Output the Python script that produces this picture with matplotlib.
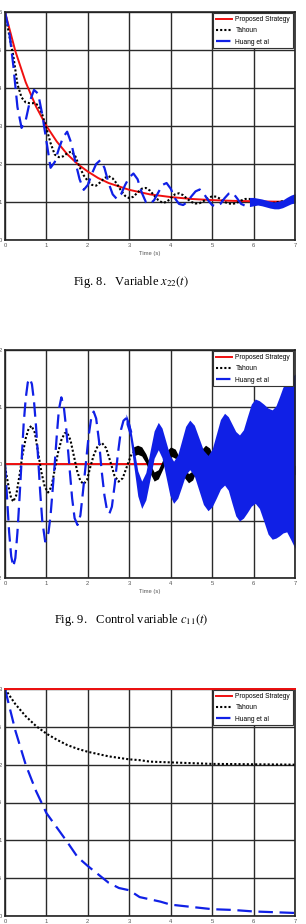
import numpy as np
import matplotlib
matplotlib.use('Agg')
import matplotlib.pyplot as plt

plt.rcParams['font.family'] = ['Liberation Sans', 'DejaVu Sans']
plt.rcParams['mathtext.fontset'] = 'stix'

# ── Series names and colours ──────────────────────────────────────────────────
LABELS = ['Proposed Strategy', 'Tahoun', 'Huang et al']
RED, BLACK, BLUE = '#f01010', '#000000', '#1020e6'
X_TICKS = [0, 1, 2, 3, 4, 5, 6, 7]

# ── Fig. 8 : x22(t) ──────────────────────────────────────────────────────────
x22_red_t = [0, 0.25, 0.5, 0.75, 1.0, 1.25, 1.5, 1.75, 2.0, 2.25, 2.5, 3.0, 3.5,
             4.0, 4.5, 5.0, 5.5, 6.0, 6.5, 7.0]
x22_red = [6.0, 4.97, 4.15, 3.51, 3.0, 2.59, 2.26, 2.0, 1.8, 1.63, 1.5, 1.32, 1.2,
           1.13, 1.08, 1.05, 1.03, 1.02, 1.01, 1.01]

x22_t = np.round(np.arange(0, 7.05, 0.1), 2)
x22_black = [6.0, 5.4, 4.85, 4.1, 3.75, 3.62, 3.6, 3.6, 3.55, 3.3,
             2.94, 2.55, 2.25, 2.18, 2.2, 2.28, 2.33, 2.2, 1.92, 1.7,
             1.55, 1.45, 1.43, 1.52, 1.63, 1.68, 1.62, 1.48, 1.3, 1.16,
             1.1, 1.14, 1.25, 1.35, 1.37, 1.3, 1.17, 1.05, 0.98, 1.0,
             1.1, 1.2, 1.23, 1.18, 1.08, 1.0, 0.96, 0.97, 1.03, 1.1,
             1.15, 1.14, 1.08, 1.0, 0.96, 0.95, 0.98, 1.04, 1.08, 1.08,
             1.03, 0.98, 0.95, 0.94, 0.95, 0.98, 1.0, 1.02, 1.02, 1.0,
             0.99]
x22_blue = [6.0, 5.5, 4.6, 3.5, 2.95, 3.15, 3.65, 3.95, 3.85, 3.3,
            2.6, 1.9, 2.05, 2.4, 2.7, 2.85, 2.55, 2.05, 1.6, 1.32,
            1.45, 1.75, 2.0, 2.1, 1.9, 1.5, 1.2, 1.08, 1.2, 1.45,
            1.65, 1.75, 1.6, 1.25, 1.0, 0.95, 1.05, 1.25, 1.45, 1.5,
            1.35, 1.1, 0.95, 0.92, 1.0, 1.15, 1.28, 1.33, 1.22, 1.05,
            0.92, 0.88, 0.95, 1.1, 1.22, 1.24, 1.1, 0.95, 0.9, 0.95,
            1.0]
# fast-oscillation band at the end (upper / lower envelope)
x22_band_t = [5.9, 6.0, 6.1, 6.2, 6.3, 6.4, 6.5, 6.6, 6.7, 6.8, 6.9, 7.0]
x22_band_hi = [1.12, 1.12, 1.1, 1.08, 1.05, 1.02, 1.0, 1.02, 1.05, 1.12, 1.18, 1.22]
x22_band_lo = [0.88, 0.9, 0.92, 0.9, 0.87, 0.84, 0.82, 0.82, 0.85, 0.9, 0.95, 0.98]

# ── Fig. 9 : c11(t) ──────────────────────────────────────────────────────────
c11_red_t = [0, 7]
c11_red = [0, 0]

c11_black_t = [0.0, 0.05, 0.1, 0.15, 0.2, 0.27, 0.35, 0.42, 0.5, 0.57, 0.64, 0.72,
               0.8, 0.88, 0.96, 1.04, 1.12, 1.2, 1.28, 1.36, 1.44, 1.5, 1.58, 1.66,
               1.74, 1.82, 1.9, 1.98, 2.06, 2.14, 2.24, 2.34, 2.44, 2.54, 2.64, 2.74,
               2.84, 2.94, 3.04, 3.14]
c11_black = [-0.05, -0.25, -0.45, -0.6, -0.66, -0.55, -0.2, 0.15, 0.45, 0.62, 0.67, 0.55,
             0.2, -0.15, -0.4, -0.5, -0.4, -0.1, 0.2, 0.42, 0.54, 0.55, 0.42, 0.15,
             -0.12, -0.3, -0.35, -0.28, -0.05, 0.15, 0.32, 0.37, 0.28, 0.05, -0.2, -0.31,
             -0.25, -0.05, 0.15, 0.24]
# from ~3 s the Tahoun trace turns into a thin fast-oscillating band
c11_black_band_t = [3.1, 3.2, 3.3, 3.4, 3.5, 3.6, 3.7, 3.8, 3.9, 4.0,
                    4.11, 4.22, 4.33, 4.43, 4.53, 4.63, 4.74, 4.84, 4.94, 5.04,
                    5.15, 5.25, 5.35, 5.45, 5.55, 5.65, 5.75, 5.85, 5.95, 6.05,
                    6.15, 6.25, 6.35, 6.45, 6.55, 6.65, 6.75, 6.85, 7.0]
c11_black_band_hi = [0.30, 0.33, 0.30, 0.18, 0.0, -0.14, -0.10, 0.06, 0.23, 0.30,
                     0.26, 0.10, -0.08, -0.17, -0.12, 0.06, 0.25, 0.33, 0.28, 0.10,
                     -0.09, -0.17, -0.12, 0.06, 0.25, 0.33, 0.28, 0.10, -0.09, -0.17,
                     -0.12, 0.06, 0.25, 0.33, 0.28, 0.10, -0.09, -0.17, -0.02]
c11_black_band_lo = [0.14, 0.17, 0.14, 0.02, -0.16, -0.30, -0.26, -0.10, 0.07, 0.14,
                     0.10, -0.06, -0.24, -0.33, -0.28, -0.10, 0.09, 0.17, 0.12, -0.06,
                     -0.25, -0.33, -0.28, -0.10, 0.09, 0.17, 0.12, -0.06, -0.25, -0.33,
                     -0.28, -0.10, 0.09, 0.17, 0.12, -0.06, -0.25, -0.33, -0.18]

c11_blue_t = [0.0, 0.05, 0.1, 0.15, 0.2, 0.25, 0.3, 0.35, 0.4, 0.45, 0.5, 0.55,
              0.6, 0.65, 0.7, 0.75, 0.8, 0.85, 0.9, 0.97, 1.05, 1.1, 1.15, 1.2,
              1.25, 1.3, 1.36, 1.42, 1.48, 1.55, 1.62, 1.68, 1.75, 1.82, 1.88, 1.95,
              2.02, 2.08, 2.14, 2.2, 2.27, 2.33, 2.4, 2.46, 2.52, 2.58, 2.65, 2.72,
              2.8, 2.86, 2.92, 2.98, 3.05]
c11_blue = [0.0, -0.6, -1.2, -1.62, -1.8, -1.65, -1.2, -0.6, 0.05, 0.7, 1.15, 1.43,
            1.5, 1.4, 1.1, 0.65, 0.1, -0.5, -1.0, -1.36, -1.2, -0.9, -0.45, 0.0,
            0.5, 0.95, 1.17, 1.0, 0.6, 0.0, -0.6, -0.95, -1.07, -0.9, -0.5, 0.0,
            0.5, 0.8, 0.92, 0.8, 0.4, -0.1, -0.55, -0.8, -0.87, -0.75, -0.35, 0.15,
            0.6, 0.76, 0.8, 0.72, 0.55]
# from ~3 s the Huang trace is a widening fast-oscillating band
c11_blue_band_t = [2.92, 3.015, 3.11, 3.205, 3.3, 3.4, 3.5, 3.6, 3.7, 3.79, 3.885,
                   3.98, 4.07, 4.17, 4.265, 4.36, 4.46, 4.57, 4.68, 4.79, 4.9, 5.0,
                   5.1, 5.2, 5.3, 5.39, 5.48, 5.57, 5.66, 5.755, 5.85, 5.945, 6.04,
                   6.14, 6.245, 6.35, 6.45, 6.54, 6.625, 6.71, 6.8, 6.9, 7.0]
c11_blue_band_hi = [0.88, 0.70, 0.29, -0.12, -0.3, -0.15, 0.22, 0.58, 0.73, 0.63, 0.39,
                    0.15, 0.05, 0.16, 0.41, 0.66, 0.77, 0.68, 0.46, 0.24, 0.15, 0.26,
                    0.52, 0.78, 0.89, 0.83, 0.7, 0.57, 0.51, 0.6, 0.83, 1.05, 1.14,
                    1.11, 1.05, 0.98, 0.95, 1.02, 1.18, 1.35, 1.42, 1.5, 1.58]
c11_blue_band_lo = [0.7, 0.48, -0.04, -0.56, -0.78, -0.63, -0.27, 0.1, 0.25, 0.11, -0.22,
                    -0.55, -0.69, -0.6, -0.4, -0.19, -0.1, -0.21, -0.46, -0.71, -0.82, -0.75,
                    -0.6, -0.44, -0.37, -0.46, -0.69, -0.91, -1.0, -0.95, -0.85, -0.74, -0.69,
                    -0.78, -1.0, -1.23, -1.32, -1.3, -1.26, -1.21, -1.19, -1.33, -1.48]

# ── third panel ──────────────────────────────────────────────────────────────
p3_t = [0, 0.25, 0.5, 0.75, 1.0, 1.25, 1.5, 1.75, 2.0, 2.25, 2.5, 2.75, 3.0, 3.25,
        3.5, 3.75, 4.0, 4.5, 5.0, 5.5, 6.0, 6.5, 7.0]
p3_red = [3.0] * len(p3_t)
p3_black = [3.0, 2.8, 2.64, 2.51, 2.41, 2.33, 2.26, 2.21, 2.17, 2.14, 2.11, 2.09, 2.07, 2.06,
            2.04, 2.035, 2.03, 2.02, 2.01, 2.008, 2.005, 2.003, 2.0]
p3_blue = [3.0, 2.45, 2.0, 1.65, 1.36, 1.17, 0.98, 0.78, 0.66, 0.55, 0.44, 0.37, 0.34, 0.25,
           0.22, 0.19, 0.15, 0.12, 0.09, 0.08, 0.06, 0.05, 0.04]


def style_axes(ax, ylim, yticks):
    ax.set_xlim(0, 7)
    ax.set_ylim(*ylim)
    ax.set_xticks(X_TICKS)
    ax.set_yticks(yticks)
    ax.set_yticklabels([f'{v:g}' for v in yticks])
    ax.grid(True, color='#2a2a2a', linewidth=1.0)
    ax.set_axisbelow(True)
    ax.tick_params(length=0, labelsize=4.2, colors='#555555', pad=2.5)
    for s in ax.spines.values():
        s.set_color('#222222')
        s.set_linewidth(1.2)
        s.set_zorder(5)
    ax.set_xlabel('Time (s)', fontsize=4.2, color='#555555', labelpad=1.5)


def add_legend(ax):
    leg = ax.legend(LABELS, loc='upper right', bbox_to_anchor=(0.995, 0.997), fontsize=4.8,
                    frameon=True, fancybox=False, framealpha=1, edgecolor='#333333',
                    borderaxespad=0.1, handlelength=2.4, handletextpad=0.5,
                    labelspacing=0.65, borderpad=0.4)
    leg.get_frame().set_linewidth(0.8)
    leg.set_zorder(10)


def draw_lines(ax, t_red, y_red, t_blk, y_blk, t_blu, y_blu):
    ax.plot(t_red, y_red, color=RED, lw=1.4, label=LABELS[0], zorder=3)
    ax.plot(t_blk, y_blk, color=BLACK, lw=1.5, linestyle=(0, (1, 1)), label=LABELS[1], zorder=3)
    ax.plot(t_blu, y_blu, color=BLUE, lw=1.6, dashes=(6.5, 3), label=LABELS[2], zorder=4)


fig = plt.figure(figsize=(3.06, 9.24), dpi=100)
W, H = 306, 924


def px_axes(left, top, right, bottom):
    return fig.add_axes([left / W, 1 - bottom / H, (right - left) / W, (bottom - top) / H])


# panel 1
ax1 = px_axes(5, 12, 295, 240)
draw_lines(ax1, x22_red_t, x22_red, x22_t, x22_black, x22_t[:len(x22_blue)], x22_blue)
ax1.fill_between(x22_band_t, x22_band_lo, x22_band_hi, color=BLUE, lw=0, zorder=4)
style_axes(ax1, (0, 6), [0, 1, 2, 3, 4, 5, 6])
add_legend(ax1)
fig.text(131 / W, 1 - 282 / H, r'Fig. 8.   Variable $x_{22}(t)$', ha='center', va='center',
         fontsize=9, family='Liberation Serif')

# panel 2
ax2 = px_axes(5, 350, 295, 578)
draw_lines(ax2, c11_red_t, c11_red, c11_black_t, c11_black, c11_blue_t, c11_blue)
ax2.fill_between(c11_black_band_t, c11_black_band_lo, c11_black_band_hi, color=BLACK, lw=0, zorder=3)
ax2.fill_between(c11_blue_band_t, c11_blue_band_lo, c11_blue_band_hi, color=BLUE, lw=0, zorder=4)
style_axes(ax2, (-2, 2), [-2, -1, 0, 1, 2])
add_legend(ax2)
fig.text(131 / W, 1 - 620 / H, r'Fig. 9.   Control variable $c_{11}(t)$', ha='center', va='center',
         fontsize=9, family='Liberation Serif')

# panel 3
ax3 = px_axes(5, 689, 295, 916)
draw_lines(ax3, p3_t, p3_red, p3_t, p3_black, p3_t, p3_blue)
ax3.lines[0].set_clip_on(False)
ax3.lines[0].set_zorder(6)
style_axes(ax3, (0, 3), [0, 0.5, 1, 1.5, 2, 2.5, 3])
add_legend(ax3)

fig.savefig('out.png', dpi=100)
